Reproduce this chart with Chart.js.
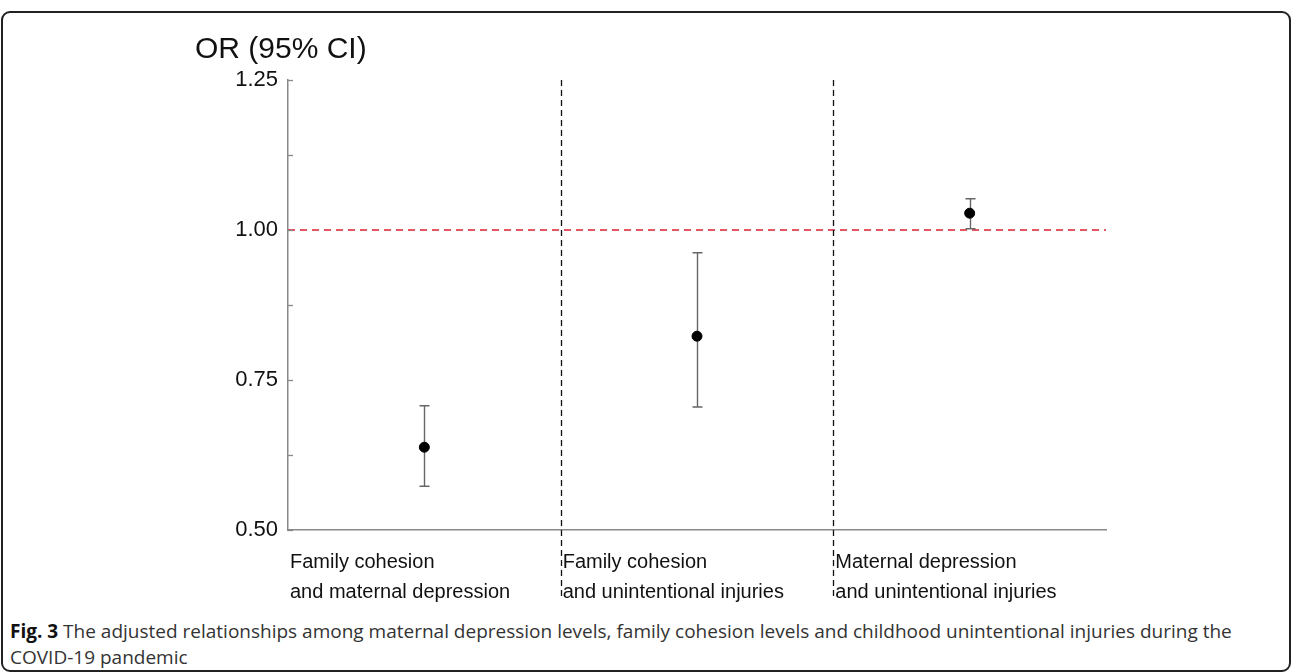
<!DOCTYPE html>
<html>
<head>
<meta charset="utf-8">
<script src="https://cdn.jsdelivr.net/npm/chart.js@4.4.0/dist/chart.umd.min.js"></script>
<style>
  html, body { margin: 0; padding: 0; background: #fff; }
  body { width: 1292px; height: 672px; position: relative; overflow: hidden; }
  #frame { position: absolute; left: 1px; top: 11px; width: 1286px; height: 657px;
           border: 2px solid #222; border-radius: 9px; }
  #wrap { position: absolute; left: 0; top: 0; width: 1292px; height: 605px; }
  #caption { position: absolute; left: 10px; top: 618px; width: 1250px;
             font-family: "Open Sans", sans-serif; font-size: 19px; line-height: 26px; color: #333; }
  #caption b { font-weight: 700; color: #111; }
</style>
</head>
<body>
<div id="frame"></div>
<div id="wrap"><canvas id="myChart"></canvas></div>
<div id="caption"><b>Fig. 3</b> The adjusted relationships among maternal depression levels, family cohesion levels and childhood unintentional injuries during the COVID-19 pandemic</div>
<script>
// les données
const categories = [['Family cohesion', 'and maternal depression'],
                    ['Family cohesion', 'and unintentional injuries'],
                    ['Maternal depression', 'and unintentional injuries']];
const orValues  = [0.638, 0.823, 1.028];
const ciLower   = [0.573, 0.705, 1.002];
const ciUpper   = [0.707, 0.962, 1.052];
const yTicks    = [0.50, 0.75, 1.00, 1.25];
const yMinor    = [0.625, 0.875, 1.125];
const refLine   = 1.00;
const yTitle    = 'OR (95% CI)';

const FONT = '"Liberation Sans", Arial, sans-serif';

/* barres d'erreur + lignes pointillées + labels */
const extras = {
    id: 'extras',
    beforeDatasetsDraw(chart) {
        const c = chart.ctx, x = chart.scales.x, y = chart.scales.y;
        const area = chart.chartArea;
        c.save();
        // ligne de référence rouge
        c.strokeStyle = '#dc1f2e';
        c.lineWidth = 1.3;
        c.setLineDash([7, 5]);
        c.beginPath();
        c.moveTo(area.left, y.getPixelForValue(refLine));
        c.lineTo(area.right, y.getPixelForValue(refLine));
        c.stroke();
        // séparateurs verticaux
        c.strokeStyle = '#111';
        c.lineWidth = 1.3;
        c.setLineDash([6, 4]);
        for (let i = 1; i < categories.length; i++) {
            const px = Math.round(x.getPixelForValue(i)) + 0.5;
            c.beginPath();
            c.moveTo(px, area.top);
            c.lineTo(px, area.bottom + 68);
            c.stroke();
        }
        c.setLineDash([]);
        // intervalles de confiance
        c.strokeStyle = '#666';
        c.lineWidth = 1.4;
        orValues.forEach((v, i) => {
            const px = Math.round(x.getPixelForValue(i + 0.5)) + 0.5;
            const lo = y.getPixelForValue(ciLower[i]);
            const hi = y.getPixelForValue(ciUpper[i]);
            c.beginPath();
            c.moveTo(px, lo); c.lineTo(px, hi);
            c.moveTo(px - 5, lo); c.lineTo(px + 5, lo);
            c.moveTo(px - 5, hi); c.lineTo(px + 5, hi);
            c.stroke();
        });
        // petits ticks vers l'intérieur
        c.strokeStyle = '#888';
        c.lineWidth = 1.3;
        yTicks.concat(yMinor).forEach(t => {
            const py = Math.round(y.getPixelForValue(t)) + 0.5;
            c.beginPath();
            c.moveTo(area.left, py); c.lineTo(area.left + 5, py);
            c.stroke();
        });
        c.restore();
    },
    afterDraw(chart) {
        const c = chart.ctx, x = chart.scales.x, area = chart.chartArea;
        c.save();
        c.fillStyle = '#111';
        c.font = '30px ' + FONT;
        c.textBaseline = 'alphabetic';
        c.fillText(yTitle, 195, 58);
        c.font = '20px ' + FONT;
        categories.forEach((lines, i) => {
            const px = x.getPixelForValue(i) + 2;
            lines.forEach((t, j) => c.fillText(t, px, area.bottom + 38 + j * 30));
        });
        c.restore();
    }
};

let ctx = document.getElementById('myChart').getContext('2d');
let myChart = new Chart(ctx, {
    type: 'scatter',
    data: {
        datasets: [{
            data: orValues.map((v, i) => ({ x: i + 0.5, y: v })),
            backgroundColor: '#000',
            borderColor: '#000',
            pointRadius: 5,
            pointHoverRadius: 5
        }]
    },
    options: {
        responsive: true,
        maintainAspectRatio: false,
        animation: false,
        events: [],
        layout: { padding: { top: 80, right: 186, left: 0, bottom: 0 } },
        plugins: { legend: { display: false }, tooltip: { enabled: false } },
        scales: {
            x: {
                type: 'linear',
                min: 0,
                max: categories.length,
                ticks: { display: false },
                grid: { display: false, drawTicks: false },
                border: { display: true, color: '#888', width: 1.5 },
                afterFit: s => { s.height = 75; }
            },
            y: {
                min: yTicks[0],
                max: yTicks[yTicks.length - 1],
                afterBuildTicks: s => { s.ticks = yTicks.map(v => ({ value: v })); },
                ticks: {
                    padding: 10,
                    color: '#111',
                    font: { family: FONT, size: 22 },
                    callback: v => v.toFixed(2)
                },
                grid: { display: false, drawTicks: false },
                border: { display: true, color: '#888', width: 1.5 },
                afterFit: s => { s.width = 288; }
            }
        }
    },
    plugins: [extras]
});
</script>
</body>
</html>
